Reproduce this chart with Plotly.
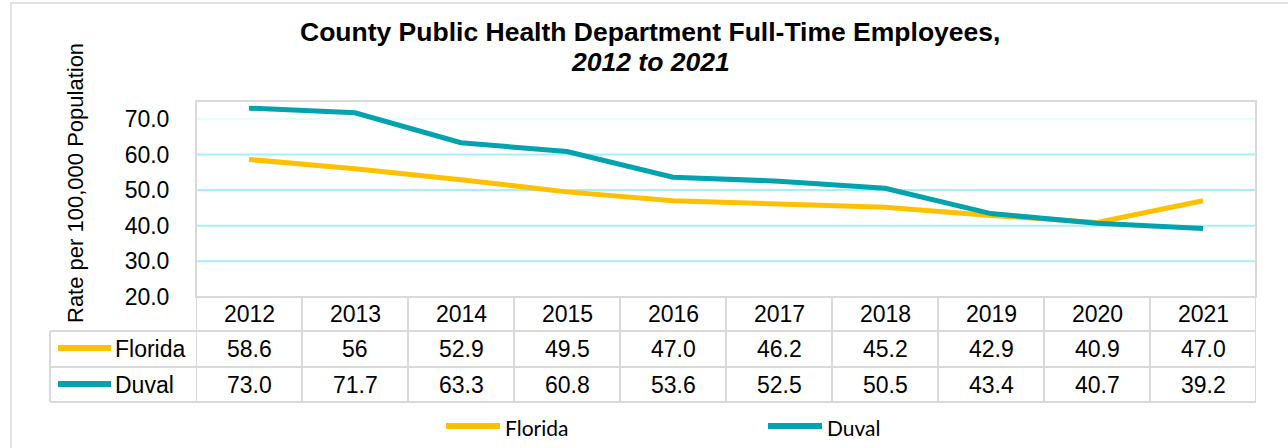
import plotly.graph_objects as go

years = ["2012", "2013", "2014", "2015", "2016", "2017", "2018", "2019", "2020", "2021"]
florida = [58.6, 56.0, 52.9, 49.5, 47.0, 46.2, 45.2, 42.9, 40.9, 47.0]
duval = [73.0, 71.7, 63.3, 60.8, 53.6, 52.5, 50.5, 43.4, 40.7, 39.2]
florida_labels = ["58.6", "56", "52.9", "49.5", "47.0", "46.2", "45.2", "42.9", "40.9", "47.0"]
duval_labels = ["73.0", "71.7", "63.3", "60.8", "53.6", "52.5", "50.5", "43.4", "40.7", "39.2"]
y_ticks = [20, 30, 40, 50, 60, 70]
y_tick_text = ["20.0", "30.0", "40.0", "50.0", "60.0", "70.0"]

FL_COLOR = "#FFC000"
DV_COLOR = "#02A3AE"
BORDER = "#D9D9D9"
GRID = "#A3F0F7"
GRID_FAINT = "#E6FBFC"
FONT = "Liberation Sans, Arial, sans-serif"

W, H = 1288, 448
L, R, T, B = 196, 32, 101, 151
PW = W - L - R
PH = H - T - B


def px_x(px):
    return (px - L) / PW


def px_y(py):
    return (H - B - py) / PH


fig = go.Figure()
fig.add_trace(go.Scatter(x=list(range(len(years))), y=florida, mode="lines", name="Florida",
                         line=dict(color=FL_COLOR, width=5), showlegend=False))
fig.add_trace(go.Scatter(x=list(range(len(years))), y=duval, mode="lines", name="Duval",
                         line=dict(color=DV_COLOR, width=5), showlegend=False))

shapes = []
# gridlines
for v in y_ticks[1:]:
    shapes.append(dict(type="line", xref="paper", yref="y", x0=0, x1=1, y0=v, y1=v,
                       line=dict(color=GRID_FAINT if v == 70 else GRID, width=2), layer="below"))

# table lines
row_y = [297, 331, 367, 402]
shapes.append(dict(type="line", xref="paper", yref="paper", x0=0, x1=1,
                   y0=px_y(row_y[0]), y1=px_y(row_y[0]), line=dict(color=BORDER, width=2)))
for ry in row_y[1:]:
    shapes.append(dict(type="line", xref="paper", yref="paper", x0=px_x(50), x1=1,
                       y0=px_y(ry), y1=px_y(ry), line=dict(color=BORDER, width=2)))
shapes.append(dict(type="line", xref="paper", yref="paper", x0=px_x(50), x1=px_x(50),
                   y0=px_y(331), y1=px_y(402), line=dict(color=BORDER, width=2)))
for k in range(len(years) + 1):
    xv = k - 0.5
    shapes.append(dict(type="line", xref="x", yref="paper", x0=xv, x1=xv,
                       y0=px_y(297), y1=px_y(402), line=dict(color=BORDER, width=2)))
# plot area border
shapes.append(dict(type="rect", xref="paper", yref="paper", x0=0, x1=1, y0=0, y1=1,
                   line=dict(color=BORDER, width=2)))
# outer chart border
shapes.append(dict(type="rect", xref="paper", yref="paper", x0=px_x(11), x1=px_x(1300),
                   y0=px_y(470), y1=px_y(3), line=dict(color=BORDER, width=1.5)))

# table legend keys
for py, col in [(348, FL_COLOR), (384, DV_COLOR)]:
    shapes.append(dict(type="line", xref="paper", yref="paper", x0=px_x(58), x1=px_x(111),
                       y0=px_y(py), y1=px_y(py), line=dict(color=col, width=6)))
# bottom legend keys
for x0, x1, col in [(446, 500, FL_COLOR), (768, 822, DV_COLOR)]:
    shapes.append(dict(type="line", xref="paper", yref="paper", x0=px_x(x0), x1=px_x(x1),
                       y0=px_y(426), y1=px_y(426), line=dict(color=col, width=6)))

ann = []
tfont = dict(family=FONT, size=23, color="#000000")
for i, yr in enumerate(years):
    ann.append(dict(x=i, y=px_y(314), xref="x", yref="paper", text=yr, showarrow=False,
                    font=tfont, xanchor="center", yanchor="middle"))
    ann.append(dict(x=i, y=px_y(349), xref="x", yref="paper", text=florida_labels[i],
                    showarrow=False, font=tfont, xanchor="center", yanchor="middle"))
    ann.append(dict(x=i, y=px_y(385), xref="x", yref="paper", text=duval_labels[i],
                    showarrow=False, font=tfont, xanchor="center", yanchor="middle"))
ann.append(dict(x=px_x(113), y=px_y(349), xref="paper", yref="paper", text="Florida",
                showarrow=False, font=tfont, xanchor="left", yanchor="middle"))
ann.append(dict(x=px_x(113), y=px_y(385), xref="paper", yref="paper", text="Duval",
                showarrow=False, font=tfont, xanchor="left", yanchor="middle"))

lfont = dict(family="Lato, sans-serif", size=21, color="#000000")
ann.append(dict(x=px_x(503), y=px_y(427), xref="paper", yref="paper", text="Florida",
                showarrow=False, font=lfont, xanchor="left", yanchor="middle"))
ann.append(dict(x=px_x(825), y=px_y(427), xref="paper", yref="paper", text="Duval",
                showarrow=False, font=lfont, xanchor="left", yanchor="middle"))

# y-axis title
ann.append(dict(x=px_x(75), y=px_y(183), xref="paper", yref="paper",
                text="Rate per 100,000 Population", textangle=-90, showarrow=False,
                font=dict(family=FONT, size=22, color="#000000"),
                xanchor="center", yanchor="middle"))

# title
title_font = dict(family=FONT, size=26.5, color="#000000")
ann.append(dict(x=px_x(650), y=px_y(32), xref="paper", yref="paper",
                text="<b>County Public Health Department Full-Time Employees,</b>",
                showarrow=False, font=title_font, xanchor="center", yanchor="middle"))
ann.append(dict(x=px_x(650), y=px_y(62), xref="paper", yref="paper",
                text="<b><i>2012 to 2021</i></b>",
                showarrow=False, font=title_font, xanchor="center", yanchor="middle"))

fig.update_layout(
    width=W, height=H,
    margin=dict(l=L, r=R, t=T, b=B, pad=0),
    paper_bgcolor="#FFFFFF", plot_bgcolor="#FFFFFF",
    showlegend=False,
    shapes=shapes, annotations=ann,
    xaxis=dict(range=[-0.5, len(years) - 0.5], showgrid=False,
               showticklabels=False, showline=False, zeroline=False, ticks=""),
    yaxis=dict(range=[20, 75], tickvals=y_ticks, ticktext=y_tick_text, showgrid=False,
               zeroline=False, showline=False, ticks="outside", ticklen=21,
               tickcolor="rgba(0,0,0,0)", tickfont=dict(family=FONT, size=23, color="#000000")),
)

fig.write_html("out.html", config={"displayModeBar": False},
               post_script="document.body.style.margin='0';document.body.style.overflow='hidden';")
